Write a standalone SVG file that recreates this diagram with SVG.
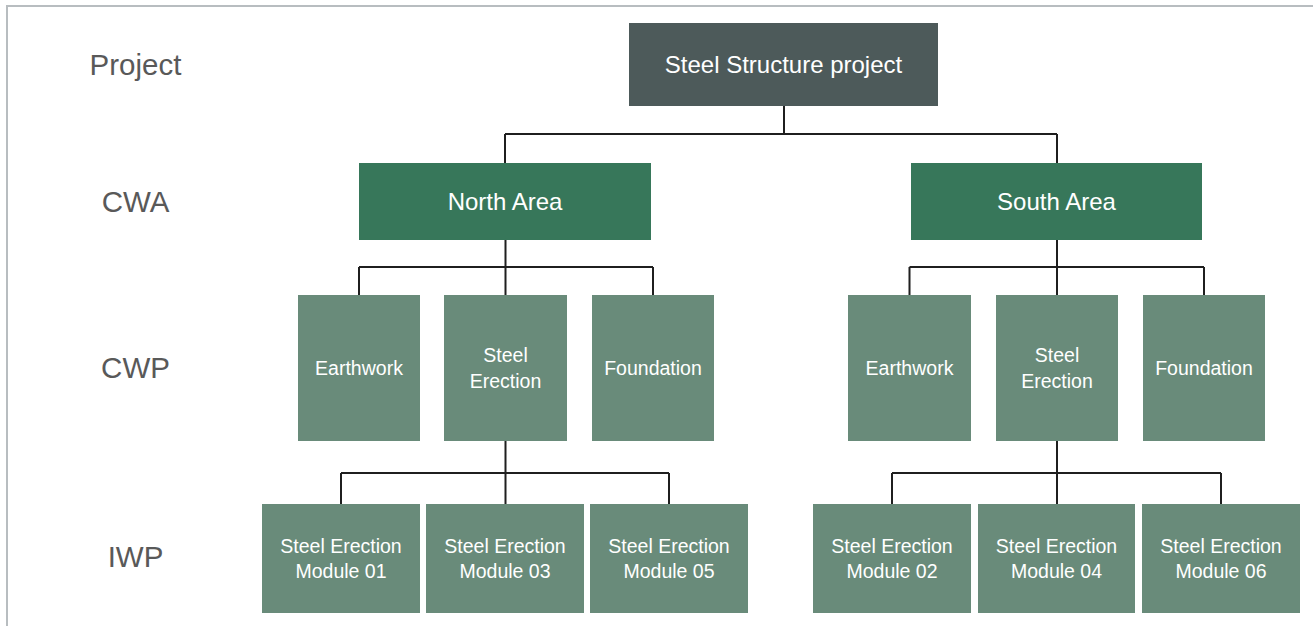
<svg xmlns="http://www.w3.org/2000/svg" width="1313" height="626" viewBox="0 0 1313 626">
<style>
.lvl{font-family:"Liberation Sans",Arial,sans-serif;font-size:29.5px;fill:#595959;text-anchor:middle}
.t{font-family:"Liberation Sans",Arial,sans-serif;fill:#ffffff;text-anchor:middle}
.t24{font-size:24px}
.t19{font-size:19.5px}
.top{fill:#4d5a5a}
.cwa{fill:#37775a}
.sub{fill:#698b7a}
.conn{fill:none;stroke:#1f1f1f;stroke-width:2}
</style>
<rect width="1313" height="626" fill="#ffffff"/>
<rect x="7" y="6" width="1330" height="650" fill="#ffffff" stroke="#b8bdc0" stroke-width="2"/>
<g id="levels">
<text class="lvl" x="135.5" y="75">Project</text>
<text class="lvl" x="135.5" y="212">CWA</text>
<text class="lvl" x="135.5" y="378">CWP</text>
<text class="lvl" x="135.5" y="567">IWP</text>
</g>
<g id="connectors">
<path class="conn" d="M784 106V134M505 134H1057M505 134V163M1057 134V163"/>
<path class="conn" d="M505.5 240V267M359 267H653M359 267V295M505.5 267V295M653 267V295"/>
<path class="conn" d="M1057 240V267M909.5 267H1204M909.5 267V295M1057 267V295M1204 267V295"/>
<path class="conn" d="M505.5 441V473M341 473H669M341 473V504M505.5 473V504M669 473V504"/>
<path class="conn" d="M1057 441V473M892 473H1221M892 473V504M1057 473V504M1221 473V504"/>
</g>
<g id="project"><rect class="top" x="629" y="23" width="309" height="83"/><text class="t t24" x="783.5" y="73">Steel Structure project</text></g>
<g id="north-area"><rect class="cwa" x="359" y="163" width="292" height="77"/><text class="t t24" x="505" y="210">North Area</text></g>
<g id="south-area"><rect class="cwa" x="911" y="163" width="291" height="77"/><text class="t t24" x="1056.5" y="210">South Area</text></g>
<g id="n-earthwork"><rect class="sub" x="298" y="295" width="122" height="146"/><text class="t t19" x="359" y="375">Earthwork</text></g>
<g id="n-steel"><rect class="sub" x="444" y="295" width="123" height="146"/><text class="t t19" x="505.5" y="362">Steel</text><text class="t t19" x="505.5" y="387.5">Erection</text></g>
<g id="n-foundation"><rect class="sub" x="592" y="295" width="122" height="146"/><text class="t t19" x="653" y="375">Foundation</text></g>
<g id="s-earthwork"><rect class="sub" x="848" y="295" width="123" height="146"/><text class="t t19" x="909.5" y="375">Earthwork</text></g>
<g id="s-steel"><rect class="sub" x="996" y="295" width="122" height="146"/><text class="t t19" x="1057" y="362">Steel</text><text class="t t19" x="1057" y="387.5">Erection</text></g>
<g id="s-foundation"><rect class="sub" x="1143" y="295" width="122" height="146"/><text class="t t19" x="1204" y="375">Foundation</text></g>
<g id="m01"><rect class="sub" x="262" y="504" width="158" height="109"/><text class="t t19" x="341" y="553">Steel Erection</text><text class="t t19" x="341" y="578">Module 01</text></g>
<g id="m03"><rect class="sub" x="426" y="504" width="158" height="109"/><text class="t t19" x="505" y="553">Steel Erection</text><text class="t t19" x="505" y="578">Module 03</text></g>
<g id="m05"><rect class="sub" x="590" y="504" width="158" height="109"/><text class="t t19" x="669" y="553">Steel Erection</text><text class="t t19" x="669" y="578">Module 05</text></g>
<g id="m02"><rect class="sub" x="813" y="504" width="158" height="109"/><text class="t t19" x="892" y="553">Steel Erection</text><text class="t t19" x="892" y="578">Module 02</text></g>
<g id="m04"><rect class="sub" x="978" y="504" width="157" height="109"/><text class="t t19" x="1056.5" y="553">Steel Erection</text><text class="t t19" x="1056.5" y="578">Module 04</text></g>
<g id="m06"><rect class="sub" x="1142" y="504" width="158" height="109"/><text class="t t19" x="1221" y="553">Steel Erection</text><text class="t t19" x="1221" y="578">Module 06</text></g>
</svg>
